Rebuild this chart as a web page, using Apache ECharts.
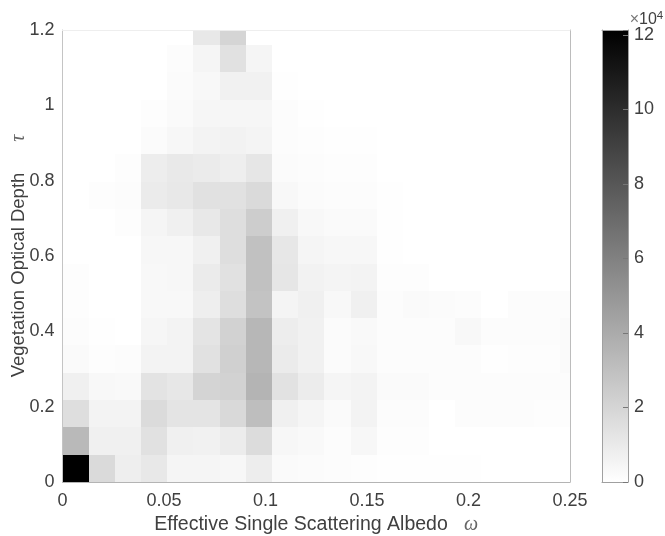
<!DOCTYPE html>
<html><head><meta charset="utf-8">
<style>html,body{margin:0;padding:0;background:#fff}#c{width:665px;height:536px;filter:blur(0.5px)}</style>
<script src="https://cdn.jsdelivr.net/npm/echarts@6/dist/echarts.min.js"></script>
</head><body><div id="c"></div>
<script>
// Bin sizes, counts in thousands, rows from tau=0 upward, columns from omega=0 rightward
const binOmega = 0.0129;
const binTau = 0.0725;
const row00 = [120,17.4,8,10.8,4.7,4.7,3.8,8.5,2.4,1.9,1.4,.9,.5,.5,.3,.3,.2,.2,.2,.2];
const row01 = [32.9,7.1,7.1,14.1,7.1,6.6,8.9,16.5,3.8,2.8,1.4,3.8,.9,.9,.2,.2,.2,.2,.2,.2];
const row02 = [15.5,5.6,5.6,16.9,12.7,12.7,17.9,30.6,7.1,4.7,2.4,5.6,1.4,1.4,.2,1.4,1.4,1.4,.9,.9];
const row03 = [7.1,3.3,2.8,13.2,11.3,20.2,21.2,35.3,13.6,8.9,4.7,5.6,2.4,2.4,1.6,1.6,1.6,1.6,1.6,1.6];
const row04 = [2.4,.9,1.4,5.6,5.6,14.1,22.1,33.8,9.4,6.6,1.9,3.3,1.4,1.4,1.4,1.4,.5,.9,.9,2.4];
const row05 = [1.4,.5,0,4.2,5.6,12.7,21.2,33.8,8.5,6.6,1.9,2.8,1.4,1.4,1.4,3.3,1.4,1.4,1.4,2.4];
const row06 = [.9,0,0,3.3,3.3,8,15.5,28.2,5.2,7.1,3.3,7.1,1.4,2.4,1.9,1.4,0,1.4,1.4,1.4];
const row07 = [.9,0,0,3.3,3.8,9.4,14.1,29.1,11.8,6.1,5.2,5.6,.9,.9,0,0,0,0,0,0];
const row08 = [0,0,0,3.8,3.8,7.1,15.5,29.1,11.3,4.7,3.8,3.8,.5,0,0,0,0,0,0,0];
const row09 = [0,0,.9,4.7,7.1,10.8,15.5,23.5,7.1,3.3,2.4,2.4,.5,0,0,0,0,0,0,0];
const row10 = [0,.9,1.4,9.4,10.8,14.1,14.1,17.4,3.3,1.9,1.4,1.4,.5,0,0,0,0,0,0,0];
const row11 = [0,0,.9,8.5,10.3,9.4,8,11.8,1.9,1.4,.9,.9,0,0,0,0,0,0,0,0];
const row12 = [0,0,0,1.9,3.8,5.6,6.1,5.2,1.4,.9,.5,.5,0,0,0,0,0,0,0,0];
const row13 = [0,0,0,.9,2.4,4.2,4.2,4.2,1.4,.5,0,0,0,0,0,0,0,0,0,0];
const row14 = [0,0,0,0,1.9,3.3,6.6,6.6,.5,0,0,0,0,0,0,0,0,0,0,0];
const row15 = [0,0,0,0,1.4,4.7,14.1,4.7,0,0,0,0,0,0,0,0,0,0,0,0];
const row16 = [0,0,0,0,0,10.8,19.7,0,0,0,0,0,0,0,0,0,0,0,0,0];
const rows = [row00,row01,row02,row03,row04,row05,row06,row07,row08,row09,row10,row11,row12,row13,row14,row15,row16];
const colorbarMax = 12.13; // x 10^4, the bar runs a little past its top tick

const cells = [];
rows.forEach((r, j) => r.forEach((v, i) => {
  cells.push([i * binOmega, (i + 1) * binOmega, j * binTau, (j + 1) * binTau, v]);
}));

const font = '"Liberation Sans", Arial, sans-serif';
const txt = '#404040';
const line = c => ({show: true, onZero: false, lineStyle: {color: c, width: 1}});
const chart = echarts.init(document.getElementById('c'), null, {renderer: 'canvas'});
chart.setOption({
  animation: false,
  backgroundColor: '#fff',
  grid: [
    {left: 62.5, top: 30, width: 507.5, height: 452, outerBoundsMode: 'none'},
    {left: 602, top: 30, width: 26, height: 452, outerBoundsMode: 'none'}
  ],
  xAxis: [
    {gridIndex: 0, type: 'value', z: 5, min: 0, max: 0.25, interval: 0.05,
     axisLine: line('#b4b4b4'), axisTick: {show: false}, splitLine: {show: false},
     axisLabel: {color: txt, fontFamily: font, fontSize: 18, margin: 10},
     name: 'Effective Single Scattering Albedo   {i|ω}', nameLocation: 'middle', nameGap: 33, nameMoveOverlap: false,
     nameTextStyle: {color: txt, fontFamily: font, fontSize: 19.5,
       rich: {i: {fontFamily: '"Liberation Serif", serif', fontStyle: 'italic', fontSize: 20, color: '#666'}}}},
    {gridIndex: 0, type: 'value', z: 5, position: 'top', min: 0, max: 0.25,
     axisLine: line('#eeeeee'), axisTick: {show: false}, axisLabel: {show: false}, splitLine: {show: false}},
    {gridIndex: 1, type: 'category', z: 5, data: ['c'], position: 'bottom',
     axisLine: line('#a0a0a0'), axisTick: {show: false}, axisLabel: {show: false}},
    {gridIndex: 1, type: 'category', z: 5, data: ['c'], position: 'top',
     axisLine: line('#a0a0a0'), axisTick: {show: false}, axisLabel: {show: false}}
  ],
  yAxis: [
    {gridIndex: 0, type: 'value', z: 5, min: 0, max: 1.2, interval: 0.2,
     axisLine: line('#c4c4c4'), axisTick: {show: false}, splitLine: {show: false},
     axisLabel: {color: txt, fontFamily: font, fontSize: 18, margin: 8},
     name: 'Vegetation Optical Depth      {i|τ}', nameLocation: 'middle', nameGap: 34, nameMoveOverlap: false,
     nameTextStyle: {color: txt, fontFamily: font, fontSize: 18.5,
       rich: {i: {fontFamily: '"Liberation Serif", serif', fontStyle: 'italic', fontSize: 20, color: '#666'}}}},
    {gridIndex: 0, type: 'value', z: 5, position: 'right', min: 0, max: 1.2,
     axisLine: line('#bcbcbc'), axisTick: {show: false}, axisLabel: {show: false}, splitLine: {show: false}},
    {gridIndex: 1, type: 'value', z: 5, position: 'right', min: 0, max: colorbarMax, interval: 2,
     axisLine: line('#a0a0a0'), splitLine: {show: false},
     axisTick: {show: true, inside: true, length: 5, lineStyle: {color: '#777'}},
     axisLabel: {color: txt, fontFamily: font, fontSize: 18, margin: 6,
       formatter: v => (v % 2 === 0 ? String(v) : '')},
     name: '{x|×}10{s|4}', nameLocation: 'end', nameGap: 1, nameMoveOverlap: false,
     nameTextStyle: {color: txt, fontFamily: font, fontSize: 16, align: 'center', padding: [0, 0, 0, 37],
       rich: {x: {fontSize: 16, color: '#777', fontFamily: font},
              s: {fontSize: 11.5, verticalAlign: 'top', color: txt, fontFamily: font, padding: [0, 0, 7, 0]}}}},
    {gridIndex: 1, type: 'value', z: 5, position: 'left', min: 0, max: colorbarMax,
     axisLine: line('#a0a0a0'), axisTick: {show: false}, axisLabel: {show: false}, splitLine: {show: false}}
  ],
  visualMap: {show: false, type: 'continuous', seriesIndex: 0, dimension: 4, min: 0, max: 120,
    inRange: {color: ['#ffffff', '#000000']}},
  series: [
    {type: 'custom', xAxisIndex: 0, yAxisIndex: 0, clip: true, silent: true,
     encode: {x: [0, 1], y: [2, 3]}, data: cells,
     renderItem: (params, api) => {
       const a = api.coord([api.value(0), api.value(2)]);
       const b = api.coord([api.value(1), api.value(3)]);
       const x0 = Math.round(a[0]), x1 = Math.round(b[0]), y0 = Math.round(a[1]), y1 = Math.round(b[1]);
       return {type: 'rect', shape: {x: x0, y: y1, width: x1 - x0, height: y0 - y1},
         style: {fill: api.visual('color')}};
     }},
    {type: 'bar', xAxisIndex: 2, yAxisIndex: 2, barWidth: '100%', silent: true, data: [colorbarMax],
     itemStyle: {color: new echarts.graphic.LinearGradient(0, 0, 0, 1, [
       {offset: 0, color: '#000000'}, {offset: 1, color: '#ffffff'}])}}
  ]
});
</script></body></html>
